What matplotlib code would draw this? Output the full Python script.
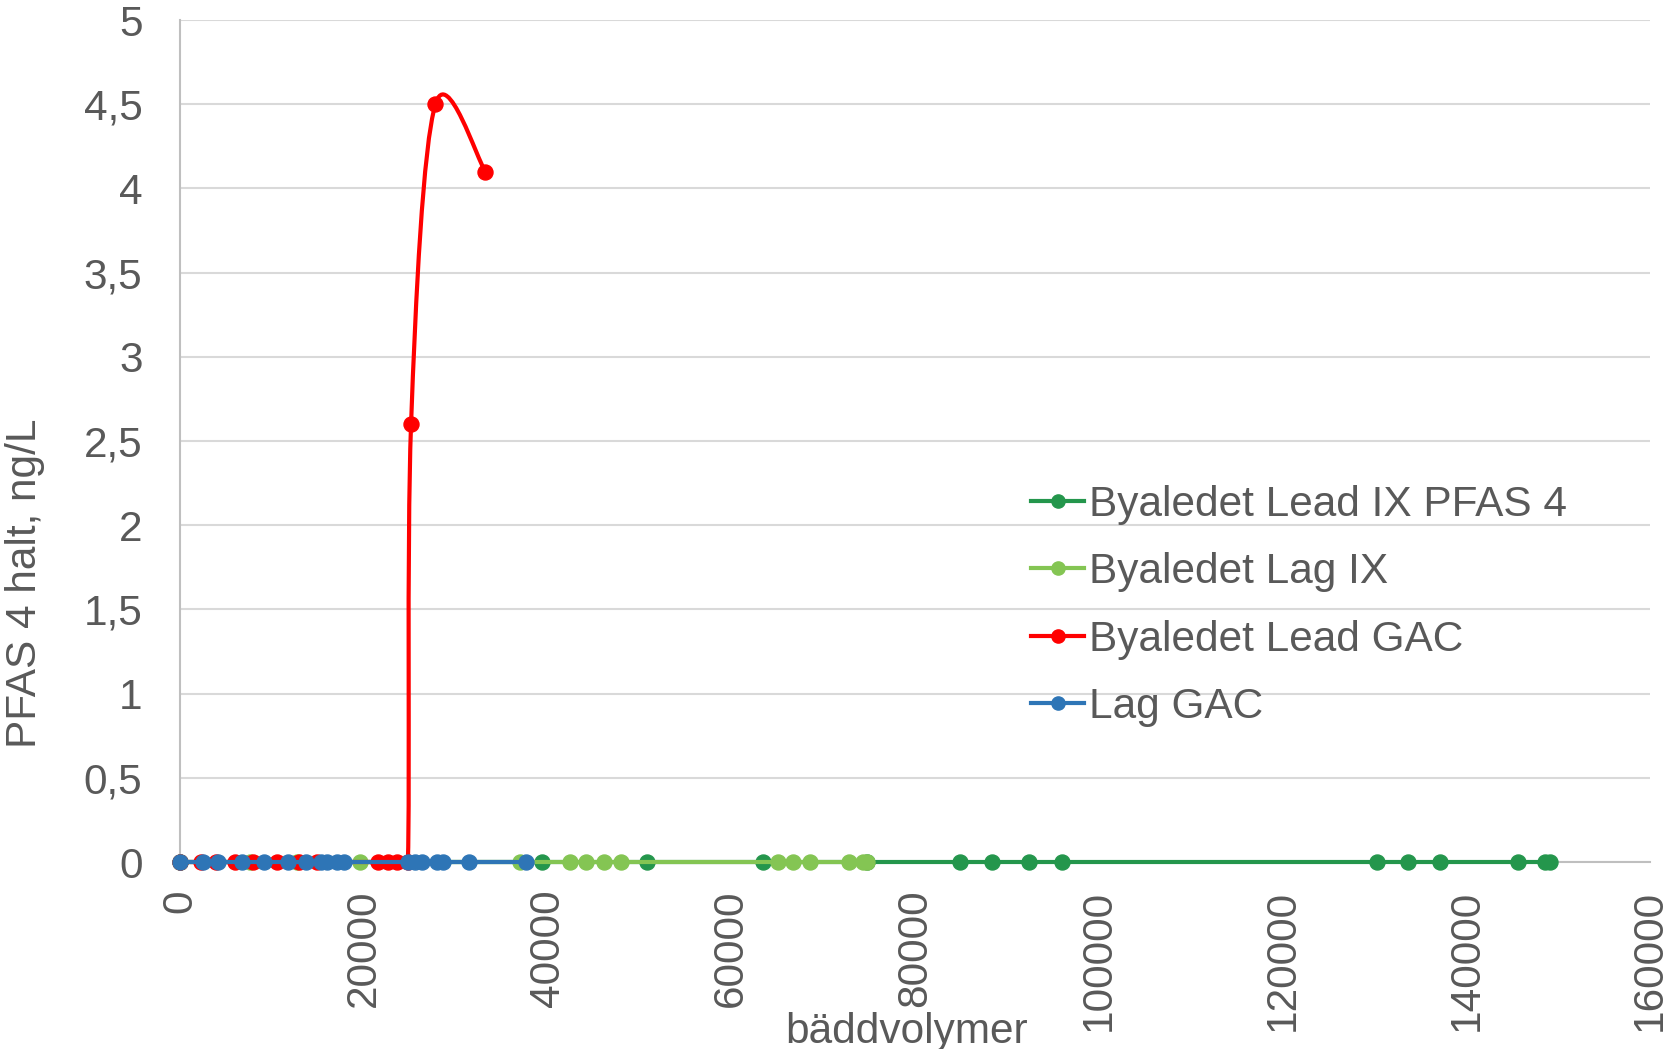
import numpy as np
import matplotlib
matplotlib.use('Agg')
import matplotlib.pyplot as plt
from matplotlib.path import Path
from matplotlib.patches import PathPatch
from matplotlib.lines import Line2D
from matplotlib.ticker import FuncFormatter

plt.rcParams['font.family'] = ['Liberation Sans', 'DejaVu Sans']

# serier (bäddvolymer, PFAS 4 halt ng/L)
lead_ix_x = [0, 39400, 50800, 63500, 74800, 84900, 88350, 92400, 96000,
             130250, 133650, 137150, 145650, 148550, 149100]
lead_ix_y = [0, 0, 0, 0, 0, 0, 0, 0, 0, 0, 0, 0, 0, 0, 0]

lag_ix_x = [0, 7600, 12700, 19600, 37000, 42450, 44150, 46150, 47950,
            65100, 66750, 68550, 72850, 74350, 74750]
lag_ix_y = [0, 0, 0, 0, 0, 0, 0, 0, 0, 0, 0, 0, 0, 0, 0]

lead_gac_x = [0, 2300, 3900, 6000, 7950, 10550, 13000, 14900, 21550, 22650,
              23600, 24800, 25150, 27800, 33250]
lead_gac_y = [0, 0, 0, 0, 0, 0, 0, 0, 0, 0, 0, 0, 2.6, 4.5, 4.1]

lag_gac_x = [0, 2450, 4150, 6800, 9150, 11750, 13700, 15400, 15950, 17050,
             17850, 24800, 25600, 26300, 27950, 28600, 31500, 37650]
lag_gac_y = [0, 0, 0, 0, 0, 0, 0, 0, 0, 0, 0, 0, 0, 0, 0, 0, 0, 0]

names = ['Byaledet Lead IX PFAS 4', 'Byaledet Lag IX', 'Byaledet Lead GAC', 'Lag GAC']
colors = ['#24964C', '#84C553', '#FF0000', '#2E75B6']
series = [(lead_ix_x, lead_ix_y), (lag_ix_x, lag_ix_y),
          (lead_gac_x, lead_gac_y), (lag_gac_x, lag_gac_y)]

text_color = '#595959'
fs = 30.5


def smooth_line(ax, xs, ys, **kw):
    # utjämnad linje (bezier) som i Excel, räknad i pixlar
    pts = ax.transData.transform(np.column_stack([xs, ys]))
    prev = np.vstack([pts[:1], pts[:-1]])
    nxt = np.vstack([pts[1:], pts[-1:]])
    tang = (nxt - prev) / 6
    verts = [pts[0]]
    codes = [Path.MOVETO]
    for i in range(len(pts) - 1):
        p1, p2 = pts[i], pts[i + 1]
        d = np.hypot(*(p2 - p1))
        t1, t2 = tang[i], tang[i + 1]
        n1, n2 = np.hypot(*t1), np.hypot(*t2)
        if n1 > d / 2:
            t1 = t1 * (d / 2) / n1
        if n2 > d / 2:
            t2 = t2 * (d / 2) / n2
        verts += [p1 + t1, p2 - t2, p2]
        codes += [Path.CURVE4] * 3
    verts = ax.transData.inverted().transform(np.array(verts))
    patch = PathPatch(Path(verts, codes), fill=False, clip_on=False, **kw)
    ax.add_patch(patch)


fig = plt.figure(figsize=(16.66, 10.49), dpi=100)
ax = fig.add_axes([180 / 1666, 1 - 862 / 1049, 1470 / 1666, 842 / 1049])
ax.set_xlim(0, 160000)
ax.set_ylim(0, 5)
ax.set_xticks(np.arange(0, 160001, 20000))
ax.set_yticks(np.arange(0, 5.01, 0.5))
ax.xaxis.set_major_formatter(FuncFormatter(lambda v, p: f'{v:.0f}'))
ax.yaxis.set_major_formatter(FuncFormatter(lambda v, p: f'{v:g}'.replace('.', ',')))

for s in ['top', 'right']:
    ax.spines[s].set_visible(False)
for s in ['left', 'bottom']:
    ax.spines[s].set_color('#BFBFBF')
    ax.spines[s].set_linewidth(1.5)
ax.grid(axis='y', color='#D9D9D9', linewidth=1.5)
ax.set_axisbelow(True)

ax.tick_params(axis='both', length=0, labelsize=fs, labelcolor=text_color)
ax.tick_params(axis='x', pad=20, labelrotation=90)
ax.tick_params(axis='y', pad=27)
for lab in ax.get_xticklabels():
    lab.set_va('top')
    lab.set_ha('center')

z = 3
for (xs, ys), c in zip(series, colors):
    smooth_line(ax, xs, ys, edgecolor=c, linewidth=3.0, zorder=z)
    ax.plot(xs, ys, linestyle='none', marker='o', markersize=10.8,
            color=c, clip_on=False, zorder=z + 0.5)
    z += 1

ax.set_xlabel('bäddvolymer', fontsize=fs, color=text_color, va='baseline')
ax.xaxis.set_label_coords((907 - 180) / 1470, (862 - 1043) / 842)
ax.set_ylabel('PFAS 4 halt, ng/L', fontsize=fs, color=text_color, va='center')
ax.yaxis.set_label_coords((25 - 180) / 1470, (862 - 583) / 842)

handles = [Line2D([], [], color=c, linewidth=3.0, marker='o', markersize=9.5)
           for c in colors]
ax.legend(handles, names, loc='center left',
          bbox_to_anchor=(1031 / 1666, 1 - 606 / 1049),
          bbox_transform=fig.transFigure, frameon=False, fontsize=fs,
          handlelength=1.26, handletextpad=0.12, labelspacing=0.65,
          borderpad=0, borderaxespad=0, labelcolor=text_color)

fig.savefig('out.png', dpi=100)
